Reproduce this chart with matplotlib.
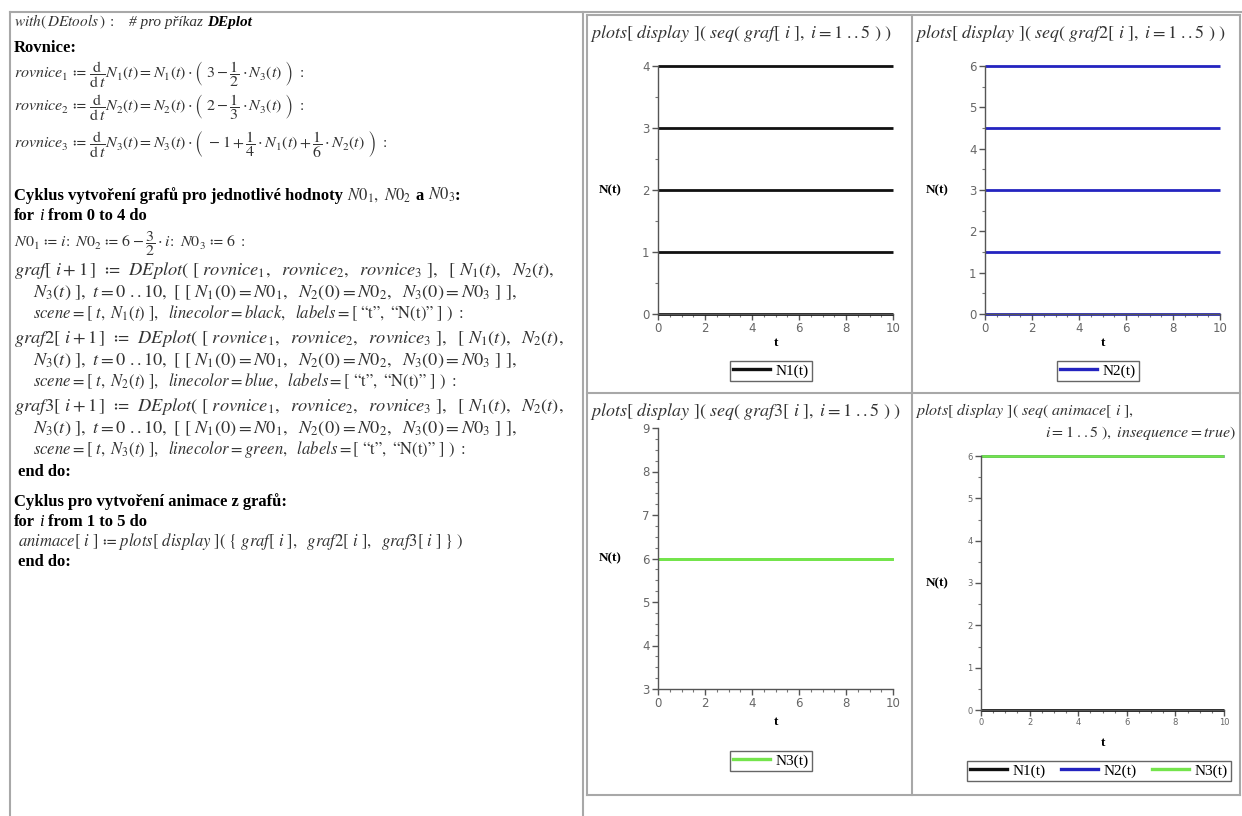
import matplotlib
matplotlib.use('Agg')
import matplotlib.pyplot as plt
from matplotlib.lines import Line2D
from matplotlib.ticker import MultipleLocator

plt.rcParams['mathtext.fontset'] = 'stix'
plt.rcParams['font.family'] = ['Liberation Serif', 'DejaVu Serif']

# ---------------- data ----------------
t_range = [0, 10]
N1_levels = [0, 1, 2, 3, 4]          # graf[i], i = 1..5
N2_levels = [6, 4.5, 3, 1.5, 0]      # graf2[i]
N3_levels = [6, 6, 6, 6, 6]          # graf3[i]
anim_frame = {'N1(t)': 0, 'N2(t)': 6, 'N3(t)': 6}   # animace[1]
x_ticks = [0, 2, 4, 6, 8, 10]
y_ticks1 = [0, 1, 2, 3, 4]
y_ticks2 = [0, 1, 2, 3, 4, 5, 6]
y_ticks3 = [3, 4, 5, 6, 7, 8, 9]
y_ticks4 = [0, 1, 2, 3, 4, 5, 6]

C_BLACK = '#111111'
C_BLUE = '#2424c0'
C_GREEN = '#74e44c'
C_TXT = '#333333'

W, H = 1242, 816
fig = plt.figure(figsize=(W / 100, H / 100), dpi=100)
fig.patch.set_facecolor('white')
R = fig.canvas.get_renderer()


def fx(x):
    return x / W


def fy(y):
    return 1 - y / H


def put(x, y, s, size=12, right=None, smin=None, smax=None, va='baseline', **kw):
    t = fig.text(fx(x), fy(y), s, fontsize=size, ha='left', va=va, **kw)
    if right is not None:
        w = t.get_window_extent(R).width
        ns = size * (right - x) / w
        if smin is not None:
            ns = max(ns, smin)
        if smax is not None:
            ns = min(ns, smax)
        t.set_fontsize(ns)
    return t


def seq(x, y, segs, size=12, va='baseline'):
    for s in segs:
        if isinstance(s, (int, float)):
            x += s
            continue
        txt, kw = s
        kw = dict(kw)
        sz = kw.pop('size', size)
        t = fig.text(fx(x), fy(y), txt, fontsize=sz, ha='left', va=va, **kw)
        x += t.get_window_extent(R).width
    return x


B = {'fontweight': 'bold', 'size': 12}
I = {'fontstyle': 'italic'}
BI = {'fontweight': 'bold', 'fontstyle': 'italic'}
M = {'color': C_TXT}
MS = 12    # math font size
FS = 11.5  # size of lines with fractions

# ---------------- borders ----------------
def fline(x0, y0, x1, y1, c='#a8a8a8', lw=1.5):
    fig.add_artist(Line2D([fx(x0), fx(x1)], [fy(y0), fy(y1)], color=c, lw=lw,
                          transform=fig.transFigure))

fline(10, 12, 1242, 12)
fline(10, 12, 10, 816)
fline(583, 12, 583, 816)
fline(587, 15, 1240, 15)
fline(587, 15, 587, 795)
fline(1240, 15, 1240, 795)
fline(912, 15, 912, 795)
fline(587, 393, 1240, 393)
fline(587, 795, 1240, 795)

# ---------------- left worksheet text ----------------
seq(14, 26, [(r'$with(\,DEtools\,)\ :$', dict(M, size=11)), 14,
             ('# pro příkaz', dict(I, color=C_TXT, size=11)), 4, ('DEplot', dict(BI, size=11))])
seq(14, 52, [('Rovnice:', B)])
put(14, 78, r'$rovnice_1\ ≔\ \dfrac{\mathrm{d}}{\mathrm{d}\,t}N_1(t) = N_1(t)\cdot\left(\ 3-\dfrac{1}{2}\cdot N_3(t)\ \right)\ :$', size=FS, color=C_TXT)
put(14, 111, r'$rovnice_2\ ≔\ \dfrac{\mathrm{d}}{\mathrm{d}\,t}N_2(t) = N_2(t)\cdot\left(\ 2-\dfrac{1}{3}\cdot N_3(t)\ \right)\ :$', size=FS, color=C_TXT)
put(14, 148, r'$rovnice_3\ ≔\ \dfrac{\mathrm{d}}{\mathrm{d}\,t}N_3(t) = N_3(t)\cdot\left(\ -1+\dfrac{1}{4}\cdot N_1(t)+\dfrac{1}{6}\cdot N_2(t)\ \right)\ :$', size=FS, color=C_TXT)

seq(14, 200, [('Cyklus vytvoření grafů pro jednotlivé hodnoty', B), 4,
              (r'$N0_1,\ N0_2$', M), 4, ('a', B), 4, (r'$N0_3$', M), (':', B)])
seq(14, 220, [('for', B), 4, ('i', I), 4, ('from 0 to 4 do', B)])
put(14, 247, r'$N0_1\ ≔\ i\!:\ N0_2\ ≔\ 6-\dfrac{3}{2}\cdot i\!:\ N0_3\ ≔\ 6\ :$', size=FS, color=C_TXT)

cont = r'$N_3(t)\ ],\ t=0\ ..10,\ [\ [\ N_1(0)=N0_1,\ \ N_2(0)=N0_2,\ \ N_3(0)=N0_3\ ]\ ],$'
gnames = ['graf', 'graf2', 'graf3']
colors_txt = ['black', 'blue', 'green']
rights = [567, 572, 570]
for k in range(3):
    y0 = 275 + k * 68
    put(14, y0, r'$%s[\ i+1\,]\ \ ≔\ \ DEplot(\ [\ rovnice_1,\ \ rovnice_2,\ \ rovnice_3\ ],\ \ [\ N_1(t),\ \ N_2(t),$' % gnames[k],
        size=MS, right=rights[k], smin=11.5, smax=13.2, color=C_TXT)
    put(33, y0 + 22, cont, size=MS, right=545, smin=11.5, smax=13.2, color=C_TXT)
    put(33, y0 + 43, r'$scene=[\ t,\ N_%d(t)\ ],\ \ linecolor=%s,\ \ labels=[\ \mathrm{“t”},\ \mathrm{“N(t)”}\ ]\ )\ :$' % (k + 1, colors_txt[k]),
        size=MS, color=C_TXT)
seq(18, 476, [('end do:', B)])
seq(14, 506, [('Cyklus pro vytvoření animace z grafů:', B)])
seq(14, 526, [('for', B), 4, ('i', I), 4, ('from 1 to 5 do', B)])
put(18, 546, r'$animace[\ i\ ]\ ≔\ plots[\ display\ ](\ \{\ graf[\ i\ ],\ \ graf2[\ i\ ],\ \ graf3[\ i\ ]\ \}\ )$', size=MS, color=C_TXT)
seq(18, 566, [('end do:', B)])

# ---------------- plots ----------------
def make_ax(l, r, b, t, ylim, yticks, yminor, xminor=0.5, tsize=8.5):
    ax = fig.add_axes([fx(l), fy(b), (r - l) / W, (b - t) / H])
    ax.set_xlim(*t_range)
    ax.set_ylim(*ylim)
    ax.set_facecolor('none')
    for s in ['top', 'right']:
        ax.spines[s].set_visible(False)
    for s in ['left', 'bottom']:
        ax.spines[s].set_color('#555555')
        ax.spines[s].set_linewidth(1.0)
    ax.set_xticks(x_ticks)
    ax.set_yticks(yticks)
    ax.xaxis.set_minor_locator(MultipleLocator(xminor))
    ax.yaxis.set_minor_locator(MultipleLocator(yminor))
    ax.tick_params(which='major', direction='out', length=4, width=1, color='#555555',
                   labelsize=tsize, labelcolor='#666666', pad=2)
    ax.tick_params(which='minor', direction='out', length=2, width=0.8, color='#777777')
    for lab in ax.get_xticklabels() + ax.get_yticklabels():
        lab.set_fontfamily('DejaVu Sans')
    return ax


def labels(ax_l, ax_r, ax_t, ax_b, ylab_x, xlab_y, size=9.5):
    fig.text(fx(ylab_x), fy((ax_t + ax_b) / 2), 'N(t)', fontsize=size, fontweight='bold',
             ha='center', va='center')
    fig.text(fx((ax_l + ax_r) / 2), fy(xlab_y), 't', fontsize=size, fontweight='bold',
             ha='center', va='center')


def legend(cx, cy, items):
    hs = [Line2D([], [], color=c, lw=2.4) for c, _ in items]
    lg = fig.legend(hs, [n for _, n in items], loc='center',
                    bbox_to_anchor=(fx(cx), fy(cy)), ncol=len(items), frameon=True,
                    fancybox=False, edgecolor='#666666', framealpha=1,
                    borderpad=0.2, handlelength=2.4, handletextpad=0.4,
                    columnspacing=1.0, borderaxespad=0,
                    prop={'family': 'Liberation Serif', 'size': 11})
    lg.get_frame().set_linewidth(1.0)


TS = 11.5
# plot 1
ax1 = make_ax(658, 893, 314, 66, (0, 4), y_ticks1, 0.5)
for v in N1_levels:
    ax1.plot(t_range, [v, v], color=C_BLACK, lw=2.0, clip_on=False, solid_capstyle='butt')
labels(658, 893, 66, 314, 610, 343)
legend(771, 371, [(C_BLACK, 'N1(t)')])
put(590, 33, r'$plots[\ display\ ](\ seq(\ graf[\ i\ ],\ i=1\ ..5\ )\ )$', size=TS,
    right=909, smin=10.5, smax=13, va='center', color=C_TXT)

# plot 2
ax2 = make_ax(985, 1220, 314, 66, (0, 6), y_ticks2, 0.5)
for v in N2_levels:
    ax2.plot(t_range, [v, v], color=C_BLUE, lw=2.0, clip_on=False, solid_capstyle='butt')
labels(985, 1220, 66, 314, 937, 343)
legend(1098, 371, [(C_BLUE, 'N2(t)')])
put(915, 33, r'$plots[\ display\ ](\ seq(\ graf2[\ i\ ],\ i=1\ ..5\ )\ )$', size=TS,
    right=1236, smin=10.5, smax=13, va='center', color=C_TXT)

# plot 3
ax3 = make_ax(658, 893, 689, 428, (3, 9), y_ticks3, 0.25, xminor=0.5)
for v in N3_levels:
    ax3.plot(t_range, [v, v], color=C_GREEN, lw=2.0, clip_on=False, solid_capstyle='butt')
labels(658, 893, 428, 689, 610, 722)
legend(771, 761, [(C_GREEN, 'N3(t)')])
put(590, 412, r'$plots[\ display\ ](\ seq(\ graf3[\ i\ ],\ i=1\ ..5\ )\ )$', size=TS,
    right=909, smin=10.5, smax=13, va='center', color=C_TXT)

# plot 4
ax4 = make_ax(981, 1224, 710, 456, (0, 6), y_ticks4, 0.5, tsize=6)
order = [('N1(t)', C_BLACK), ('N2(t)', C_BLUE), ('N3(t)', C_GREEN)]
for name, c in order:
    v = anim_frame[name]
    ax4.plot(t_range, [v, v], color=c, lw=2.0, clip_on=False, solid_capstyle='butt')
labels(981, 1224, 456, 710, 937, 743)
legend(1099, 771, [(c, n) for n, c in order])
put(915, 410, r'$plots[\ display\ ](\ seq(\ animace[\ i\ ],$', size=TS, va='center', color=C_TXT)
fig.text(fx(1236), fy(433), r'$i=1\ ..5\ ),\ insequence=true)$', fontsize=TS,
         ha='right', va='center', color=C_TXT)

fig.savefig('out.png', dpi=100, facecolor='white')
